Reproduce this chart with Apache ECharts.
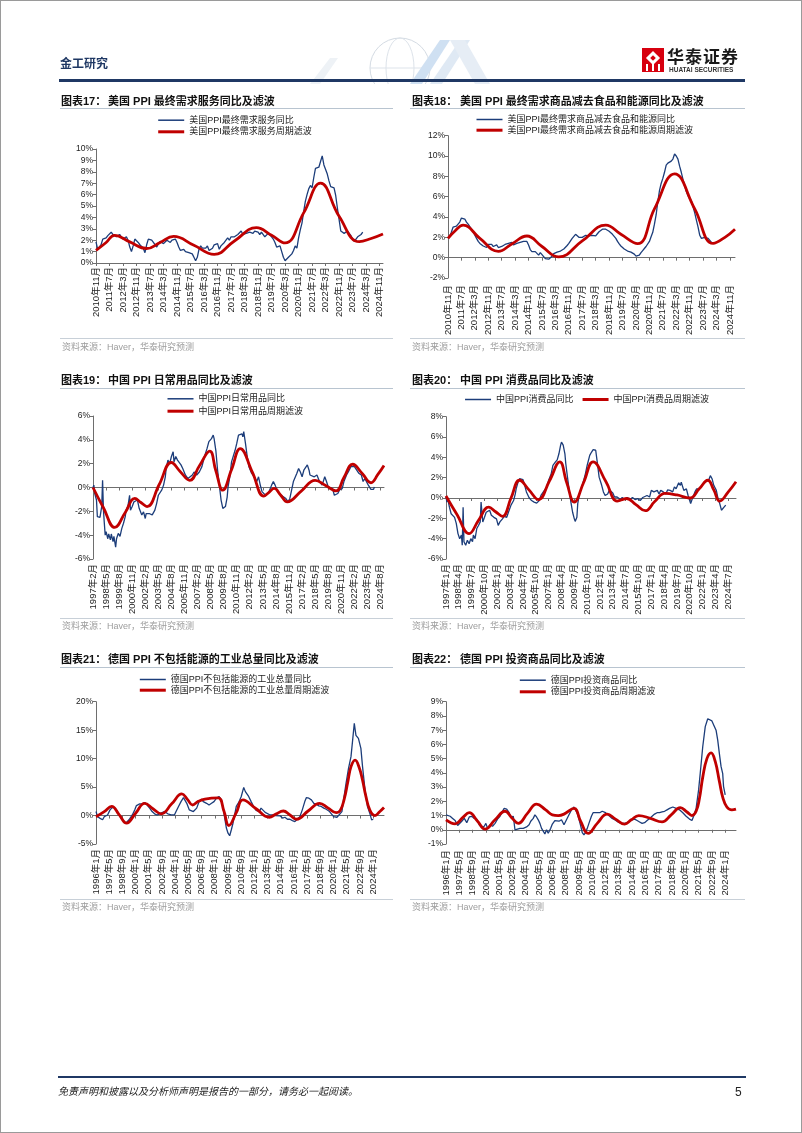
<!DOCTYPE html>
<html><head><meta charset="utf-8">
<script src="https://cdn.jsdelivr.net/npm/echarts/dist/echarts.min.js"></script>
<style>
html,body{margin:0;padding:0;background:#fff;}
#page{position:relative;width:802px;height:1133px;overflow:hidden;font-family:"Liberation Sans","Noto Sans CJK SC",sans-serif;}
#chart{position:absolute;left:0;top:0;width:802px;height:1133px;z-index:1;}
.t{position:absolute;white-space:nowrap;line-height:1;z-index:2;}
.ln{position:absolute;z-index:2;}
.ttl{font-size:11px;font-weight:bold;color:#111;}
.src{font-size:9px;color:#9d9d9d;}
.frame{position:absolute;left:0;top:0;width:802px;height:1133px;box-sizing:border-box;border:1px solid #9a9a9a;z-index:3;pointer-events:none;}
</style></head>
<body>
<div id="page">
  <svg style="position:absolute;left:290px;top:28px;z-index:0" width="230" height="56">
    <circle cx="110" cy="40" r="30" fill="none" stroke="#d4dbe3" stroke-width="1"/>
    <ellipse cx="110" cy="40" rx="14" ry="30" fill="none" stroke="#dde3ea" stroke-width="1"/>
    <line x1="80" y1="40" x2="140" y2="40" stroke="#dde3ea"/>
    <polygon points="120,56 150,12 160,12 132,56" fill="#cfe0f2"/>
    <polygon points="140,56 170,12 180,12 152,56" fill="#dfe9f4"/>
    <polygon points="160,12 175,12 200,56 185,56" fill="#e6edf5"/>
    <polygon points="20,56 40,30 48,30 30,56" fill="#eef2f6"/>
  </svg>
  <div class="t" style="left:60px;top:58px;font-size:12px;font-weight:bold;color:#1f3864;">金工研究</div>
  <div class="ln" style="left:59px;top:79px;width:686px;height:3px;background:#1f3864;"></div>
  <div class="ln" style="left:642px;top:48px;width:22px;height:24px;background:#d7000f;"></div>
  <div class="ln" style="left:648px;top:53px;width:10px;height:10px;background:#fff;transform:rotate(45deg);"></div>
  <div class="ln" style="left:651px;top:56px;width:4px;height:4px;background:#d7000f;transform:rotate(45deg);"></div>
  <div class="ln" style="left:646px;top:64px;width:2px;height:7px;background:#fff;"></div>
  <div class="ln" style="left:652px;top:64px;width:2px;height:7px;background:#fff;"></div>
  <div class="ln" style="left:658px;top:64px;width:2px;height:7px;background:#fff;"></div>
  <div class="t" style="left:667px;top:49px;font-size:17px;font-weight:bold;color:#1a1a1a;letter-spacing:1px;">华泰证券</div>
  <div class="t" style="left:669px;top:67px;font-size:6.5px;font-weight:bold;color:#333;">HUATAI SECURITIES</div>

  <!-- row 1 -->
  <div class="t ttl" style="left:61px;top:95.5px;">图表17：</div>
  <div class="t ttl" style="left:108px;top:95.5px;">美国 PPI 最终需求服务同比及滤波</div>
  <div class="ln" style="left:60px;top:108px;width:333px;height:1px;background:#b8c4d0;"></div>
  <div class="t ttl" style="left:412px;top:95.5px;">图表18：</div>
  <div class="t ttl" style="left:460px;top:95.5px;">美国 PPI 最终需求商品减去食品和能源同比及滤波</div>
  <div class="ln" style="left:410px;top:108px;width:335px;height:1px;background:#b8c4d0;"></div>
  <div class="ln" style="left:60px;top:338px;width:333px;height:1px;background:#c8d0d8;"></div>
  <div class="t src" style="left:62px;top:342.5px;">资料来源：Haver，华泰研究预测</div>
  <div class="ln" style="left:410px;top:338px;width:335px;height:1px;background:#c8d0d8;"></div>
  <div class="t src" style="left:412px;top:342.5px;">资料来源：Haver，华泰研究预测</div>

  <!-- row 2 -->
  <div class="t ttl" style="left:61px;top:375.2px;">图表19：</div>
  <div class="t ttl" style="left:108px;top:375.2px;">中国 PPI 日常用品同比及滤波</div>
  <div class="ln" style="left:60px;top:388px;width:333px;height:1px;background:#b8c4d0;"></div>
  <div class="t ttl" style="left:412px;top:375.2px;">图表20：</div>
  <div class="t ttl" style="left:460px;top:375.2px;">中国 PPI 消费品同比及滤波</div>
  <div class="ln" style="left:410px;top:388px;width:335px;height:1px;background:#b8c4d0;"></div>
  <div class="ln" style="left:60px;top:618px;width:333px;height:1px;background:#c8d0d8;"></div>
  <div class="t src" style="left:62px;top:621.5px;">资料来源：Haver，华泰研究预测</div>
  <div class="ln" style="left:410px;top:618px;width:335px;height:1px;background:#c8d0d8;"></div>
  <div class="t src" style="left:412px;top:621.5px;">资料来源：Haver，华泰研究预测</div>

  <!-- row 3 -->
  <div class="t ttl" style="left:61px;top:653.5px;">图表21：</div>
  <div class="t ttl" style="left:108px;top:653.5px;">德国 PPI 不包括能源的工业总量同比及滤波</div>
  <div class="ln" style="left:60px;top:666.5px;width:333px;height:1px;background:#b8c4d0;"></div>
  <div class="t ttl" style="left:412px;top:653.5px;">图表22：</div>
  <div class="t ttl" style="left:460px;top:653.5px;">德国 PPI 投资商品同比及滤波</div>
  <div class="ln" style="left:410px;top:666.5px;width:335px;height:1px;background:#b8c4d0;"></div>
  <div class="ln" style="left:60px;top:899px;width:333px;height:1px;background:#c8d0d8;"></div>
  <div class="t src" style="left:62px;top:902.5px;">资料来源：Haver，华泰研究预测</div>
  <div class="ln" style="left:410px;top:899px;width:335px;height:1px;background:#c8d0d8;"></div>
  <div class="t src" style="left:412px;top:902.5px;">资料来源：Haver，华泰研究预测</div>

  <!-- footer -->
  <div class="ln" style="left:58px;top:1076px;width:688px;height:2px;background:#1f3864;"></div>
  <div class="t" style="left:58px;top:1087px;font-size:10px;font-style:italic;color:#222;">免责声明和披露以及分析师声明是报告的一部分，请务必一起阅读。</div>
  <div class="t" style="left:735px;top:1086px;font-size:12px;color:#222;">5</div>

  <div id="chart"></div>
  <div class="frame"></div>
</div>
<script>
// ---------- DATA ----------
// Chart 17: US PPI final demand services (monthly from 2010-11)
const us_svc_yoy = [1.85,1.2,1.3,1.6,2.1,2.0,2.2,2.4,2.4,2.7,2.5,2.4,2.3,2.4,2.5,2.3,2.1,2.2,2.3,2.0,1.4,1.0,1.5,2.1,2.2,1.8,1.6,1.5,1.3,0.9,1.6,2.1,2.2,2.0,1.8,1.6,1.4,1.7,1.9,2.0,1.7,1.8,2.0,1.9,1.8,2.0,2.1,2.1,1.8,1.4,1.1,1.1,1.2,1.0,1.1,0.9,0.9,0.8,0.5,0.2,0.5,1.2,1.5,1.3,1.2,1.3,1.5,1.1,1.0,1.3,1.6,1.7,1.7,1.2,1.5,1.6,1.8,2.0,2.2,2.0,2.3,2.2,2.3,2.4,2.5,2.6,2.8,2.5,2.5,2.6,2.5,2.7,2.7,2.6,2.8,2.9,2.7,2.5,2.7,2.6,2.3,2.4,2.6,2.5,2.3,2.1,1.8,1.4,1.4,1.5,1.0,0.5,0.2,0.15,0.5,0.4,0.8,1.1,1.5,1.3,2.2,2.9,3.5,4.5,5.4,6.0,6.5,6.8,6.6,7.5,8.3,8.2,8.4,8.9,9.4,8.6,8.2,7.8,7.2,6.7,6.7,6.6,5.9,4.8,3.8,2.8,2.8,2.6,2.5,2.8,2.6,2.4,2.1,1.9,2.0,2.3,2.4,2.5,2.7];
// [month index, value]
const us_svc_filter = [[0,1.1],[6,1.8],[11,2.43],[20,1.85],[30,1.27],[38,1.8],[46,2.33],[58,1.55],[70,0.76],[82,1.93],[95,3.1],[104,2.43],[112,1.76],[123,4.4],[133,7.0],[144,4.1],[156,1.87],[163,2.15],[170,2.55]];

// Chart 18: US PPI final demand goods less food & energy (monthly from 2010-11)
const us_core_yoy = [1.9,2.1,2.5,3.0,2.9,3.1,3.3,3.5,3.9,4.0,3.8,3.5,3.3,3.05,2.8,2.55,2.2,1.9,1.6,1.4,1.3,1.15,1.1,1.0,1.3,1.2,1.3,1.1,1.2,1.25,1.0,1.15,1.1,1.0,1.3,1.35,1.4,1.55,1.5,1.25,1.35,1.4,1.45,1.5,1.55,1.6,1.65,1.6,1.25,0.8,0.6,0.45,0.6,0.7,0.25,0.5,0.3,0.1,-0.1,-0.15,-0.15,-0.1,0.15,0.4,0.5,0.55,0.6,0.65,0.7,0.85,1.0,1.2,1.4,1.65,1.9,2.1,2.3,2.15,2.0,1.9,2.0,2.05,2.2,2.3,2.15,2.2,2.2,2.2,2.15,2.35,2.55,2.7,2.8,2.8,2.8,2.7,2.6,2.45,2.3,2.1,1.9,1.6,1.35,1.15,1.0,0.85,0.75,0.65,0.6,0.55,0.5,0.35,0.15,0.1,0.25,0.5,0.7,0.9,1.1,1.25,1.6,2.05,2.5,3.3,4.2,5.5,6.6,7.3,7.8,8.4,9.1,9.3,9.4,9.5,9.7,10.2,10.0,9.7,9.0,8.4,7.7,7.1,6.5,6.1,5.8,5.6,5.0,4.4,3.7,3.0,2.2,1.9,1.8,2.0,2.0,1.9,1.7,1.5];
const us_core_filter = [[0,1.9],[4,2.6],[9,3.2],[19,1.9],[30,0.62],[38,1.35],[47,2.13],[56,1.1],[66,0.07],[80,1.65],[94,3.2],[103,2.3],[113,1.38],[123,4.8],[135,8.25],[147,4.8],[158,1.4],[165,2.0],[171,2.8]];

// Chart 19: China PPI daily-use goods (index from 1997-02)
const cn_daily_yoy = [[0,0],[1,0.2],[2,-0.5],[4,-1.05],[5,-2.45],[7,-2.4],[8,-2.5],[10,-1.6],[11,0.6],[12,-1.9],[13,-3.0],[14,-4.0],[15,-3.7],[17,-4.3],[18,-3.9],[20,-4.4],[21,-3.9],[23,-4.55],[24,-4.1],[26,-5.0],[27,-4.3],[29,-3.85],[31,-4.1],[33,-3.45],[35,-3.0],[37,-2.45],[38,-1.9],[40,-1.6],[42,-0.65],[43,-1.9],[45,-1.6],[47,-1.2],[49,-1.35],[51,-1.05],[53,-1.75],[56,-2.3],[58,-2.05],[60,-2.6],[61,-2.2],[63,-2.3],[65,-2.2],[68,-2.3],[71,-1.9],[73,-1.35],[75,-0.65],[77,-0.5],[79,-0.2],[81,0.2],[83,0.9],[84,1.6],[86,2.3],[88,2.0],[90,2.6],[92,3.0],[93,2.15],[95,2.6],[97,2.3],[99,2.45],[101,1.9],[103,1.6],[106,1.05],[109,0.75],[111,0.6],[114,1.05],[116,1.3],[119,1.05],[122,1.3],[125,1.75],[128,2.6],[131,3.3],[133,3.85],[136,4.1],[138,4.4],[139,4.1],[141,3.1],[143,1.45],[145,0.2],[147,-1.05],[149,-1.75],[150,-1.9],[152,-1.6],[154,-0.8],[155,0.05],[157,0.9],[159,2.15],[161,2.3],[163,3.1],[165,3.7],[167,4.4],[169,4.25],[171,4.5],[172,4.25],[173,4.7],[175,3.7],[177,2.6],[179,1.75],[182,1.2],[185,0.9],[188,0.5],[190,0.9],[192,0.2],[194,-0.35],[198,-0.65],[202,-0.35],[205,0.2],[207,0.5],[209,0.2],[212,-0.35],[216,-0.65],[221,-0.9],[224,-1.2],[226,-0.9],[228,-0.2],[230,0.5],[232,0.6],[234,1.2],[236,1.6],[238,1.3],[240,0.9],[242,1.45],[244,1.3],[246,1.9],[248,1.45],[249,1.05],[251,1.2],[254,0.9],[257,1.05],[260,0.5],[263,0.2],[266,0.9],[268,0.5],[270,0.05],[272,-0.1],[275,-0.1],[277,-0.65],[279,-0.75],[281,-0.5],[283,-0.2],[286,-0.1],[288,0.5],[291,1.05],[293,1.3],[296,1.75],[297,1.9],[300,1.75],[302,1.6],[305,1.2],[308,1.05],[310,0.5],[312,0.75],[314,0.6],[316,0.2],[319,-0.15],[320,0],[322,-0.15],[323,0.05]];
const cn_daily_filter = [[0,0],[12,-1.7],[25,-3.35],[37,-2.1],[48,-0.92],[55,-1.26],[62,-1.6],[76,0.25],[90,2.1],[100,1.35],[111,0.6],[122,1.8],[134,3.05],[141,1.4],[149,-0.22],[159,1.5],[169,3.27],[183,1.27],[196,-0.73],[202,-0.4],[208,-0.08],[215,-0.6],[223,-1.2],[239,-0.3],[255,0.6],[267,0.16],[279,-0.28],[288,0.83],[298,1.95],[309,1.18],[319,0.4],[327,1.1],[334,1.85]];

// Chart 20: China PPI consumer goods (index from 1997-01)
const cn_cons_yoy = [[0,0.15],[1,-0.4],[2,-0.05],[4,-0.9],[6,-1.55],[8,-1.4],[10,-1.9],[12,-2.5],[14,-3.5],[16,-4.0],[18,-3.65],[19,-4.65],[20,-0.9],[21,-4.3],[23,-4.65],[25,-4.15],[27,-4.5],[29,-4.0],[31,-4.3],[32,-3.65],[34,-4.0],[36,-3.0],[38,-2.7],[40,-2.35],[41,-0.4],[43,-2.35],[45,-1.9],[47,-1.4],[49,-1.55],[51,-1.2],[53,-1.7],[56,-1.9],[59,-2.05],[61,-2.7],[63,-2.35],[66,-2.05],[68,-1.8],[71,-1.9],[73,-1.4],[76,-0.7],[79,-0.25],[81,0.4],[82,0.9],[84,1.5],[86,1.9],[88,1.75],[90,1.8],[92,1.25],[94,0.6],[97,0.05],[100,-0.25],[103,-0.4],[106,-0.5],[109,-0.25],[111,0.25],[115,0.75],[118,1.1],[120,1.75],[123,2.4],[125,3.2],[128,3.55],[130,3.75],[132,4.35],[134,5.2],[135,5.5],[137,5.2],[139,4.35],[140,3.4],[142,2.05],[144,0.75],[146,-0.4],[148,-1.4],[150,-2.05],[151,-2.3],[153,-1.9],[154,-0.55],[156,0.4],[158,0.9],[161,1.75],[163,2.4],[165,3.2],[168,4.2],[170,4.5],[172,4.75],[175,4.7],[177,3.4],[179,2.05],[182,1.25],[184,0.6],[186,0.25],[189,0.4],[191,0.8],[193,0.9],[195,0.5],[197,0.1],[200,0.1],[204,-0.15],[206,0.05],[209,-0.15],[212,0.05],[215,-0.15],[218,0.05],[221,-0.15],[224,-0.05],[227,-0.25],[230,0.05],[232,-0.05],[235,0.25],[238,0.1],[240,0.75],[243,0.6],[247,0.75],[249,0.4],[251,0.75],[254,0.6],[257,0.4],[259,0.8],[262,0.75],[265,0.6],[267,1.1],[269,0.9],[272,1.5],[274,1.25],[275,1.55],[278,0.75],[281,0.9],[283,0.25],[286,-0.55],[288,-0.05],[291,0.6],[293,0.9],[296,0.9],[299,1.25],[302,1.55],[304,1.4],[307,1.75],[309,2.2],[311,1.9],[313,1.25],[316,0.75],[318,-0.05],[320,-0.55],[322,-1.2],[323,-1.05],[325,-0.9],[327,-0.7]];
const cn_cons_filter = [[0,0.2],[13,-1.65],[27,-3.5],[38,-2.2],[50,-0.9],[58,-1.35],[66,-1.8],[76,0],[86,1.75],[97,0.8],[108,-0.15],[121,1.7],[133,3.55],[141,1.55],[150,-0.4],[161,1.55],[172,3.55],[187,1.6],[200,-0.3],[206,-0.15],[211,-0.05],[222,-0.65],[233,-1.25],[244,-0.35],[256,0.45],[270,0.3],[285,0],[296,0.9],[306,1.75],[313,0.8],[320,-0.3],[330,0.6],[339,1.6]];

// Chart 21: Germany PPI industry ex energy (index from 1996-01)
const de_exen_yoy = [[0,0.7],[2,-0.2],[5,-0.5],[8,-0.75],[10,-0.2],[14,0.1],[17,1.0],[20,1.45],[23,1.3],[26,0.7],[29,-0.2],[33,-0.9],[36,-1.35],[40,-0.75],[44,0.1],[47,1.0],[49,1.75],[53,2.05],[56,2.05],[59,2.3],[62,1.85],[65,1.3],[68,0.7],[71,0.3],[74,0.1],[77,0.3],[80,0.5],[83,0.7],[87,0.3],[91,0.1],[95,0.1],[97,0.7],[100,1.6],[103,2.45],[106,3.15],[108,3.0],[110,2.15],[113,1.0],[115,0.9],[118,0.7],[122,1.3],[125,2.45],[128,2.85],[130,2.45],[134,2.15],[137,1.85],[140,2.15],[143,2.45],[146,3.05],[149,3.35],[152,2.75],[154,1.3],[156,-0.45],[158,-2.2],[160,-3.1],[162,-3.55],[164,-2.5],[166,-1.35],[168,0.1],[170,1.6],[173,2.3],[176,3.35],[179,4.95],[181,4.2],[183,3.9],[185,3.35],[188,2.45],[191,1.6],[194,0.9],[198,0.7],[200,1.3],[202,1.15],[205,0.55],[207,0.3],[211,0.1],[214,0.1],[217,0],[219,0.3],[223,-0.05],[226,-0.45],[229,-0.3],[232,-0.65],[235,-0.65],[238,-0.9],[241,-1.05],[244,-0.65],[247,-0.2],[250,1.0],[253,2.45],[255,3.15],[258,3.05],[261,2.75],[264,2.15],[267,2.0],[270,1.7],[273,1.6],[276,1.3],[279,1.1],[283,0.7],[285,0.4],[288,-0.2],[292,-0.3],[294,-0.05],[298,0.7],[300,2.75],[303,5.65],[306,8.3],[309,10.35],[311,13.25],[313,16.2],[315,14.1],[318,13.55],[321,11.8],[323,8.6],[326,4.5],[329,1.6],[332,0.3],[334,-0.75],[336,-0.65]];
const de_exen_filter = [[0,-0.2],[10,0.7],[19,1.6],[28,0.15],[37,-1.35],[48,0.4],[59,2.15],[69,1.2],[79,0.3],[92,2.1],[104,3.8],[111,2.8],[117,1.85],[124,2.5],[132,2.9],[148,3.1],[155,0.8],[161,-1.75],[170,0.5],[178,2.75],[194,1.2],[210,-0.3],[218,0.25],[227,0.8],[235,0.1],[243,-0.65],[257,0.8],[271,2.15],[281,1.35],[291,0.5],[296,0.9],[301,3.0],[305,5.8],[309,8.6],[314,9.75],[319,8.4],[323,6.2],[327,3.4],[332,0.9],[338,0],[344,0.7],[349,1.4]];

// Chart 22: Germany PPI capital goods (index from 1996-01)
const de_cap_yoy = [[0,1.05],[2,1.1],[5,0.95],[8,0.8],[11,0.65],[14,0.3],[16,0.2],[19,0.6],[22,0.8],[25,0.5],[28,0.9],[31,0.95],[34,0.8],[37,0.75],[40,0.35],[43,0.15],[46,0.25],[48,0.45],[50,0.1],[53,0.35],[56,0.25],[59,0.45],[62,0.75],[65,0.95],[68,1.3],[70,1.5],[73,1.45],[76,1.2],[78,0.9],[80,0.8],[81,0.95],[83,0],[85,0.1],[89,0.1],[93,0.1],[97,0.2],[100,0.35],[102,0.6],[105,0.8],[107,1.05],[109,0.9],[111,0.7],[113,0.45],[115,0.1],[117,-0.1],[119,-0.3],[121,0],[123,-0.25],[126,0.1],[128,0.4],[131,0.65],[133,0.7],[136,0.6],[139,0.7],[142,0.35],[145,0.7],[148,1.05],[151,1.4],[154,1.6],[156,1.5],[158,1.15],[160,0.75],[162,0.3],[164,-0.2],[166,-0.35],[168,-0.2],[170,0.1],[172,0.45],[175,0.95],[177,1.2],[180,1.2],[182,1.15],[185,1.2],[188,1.3],[190,1.3],[192,1.2],[194,1.1],[197,0.95],[200,0.8],[203,0.7],[207,0.55],[211,0.45],[215,0.45],[218,0.5],[221,0.6],[224,0.7],[227,0.75],[230,0.65],[233,0.55],[236,0.45],[239,0.5],[242,0.65],[245,0.8],[248,0.95],[251,1.1],[254,1.2],[257,1.2],[260,1.25],[263,1.3],[266,1.4],[269,1.5],[273,1.6],[277,1.5],[281,1.4],[285,1.2],[289,0.95],[293,0.75],[296,0.65],[298,0.95],[301,1.5],[304,2.8],[306,4.0],[309,5.85],[312,7.25],[315,7.8],[317,7.7],[320,7.65],[322,7.7],[325,7.0],[327,6.3],[329,5.35],[331,4.45],[333,3.95],[334,3.05],[336,2.45]];
const de_cap_filter = [[0,0.7],[11,0.42],[20,0.85],[28,1.2],[38,0.6],[47,0.05],[59,0.7],[71,1.3],[79,0.85],[87,0.45],[98,1.15],[109,1.8],[120,1.4],[128,1.05],[135,1.0],[142,1.1],[154,1.5],[162,0.6],[171,-0.25],[182,0.45],[194,1.1],[204,0.75],[215,0.4],[223,0.7],[232,1.0],[246,0.8],[260,0.55],[271,1.05],[282,1.55],[290,1.25],[296,1.0],[301,1.3],[305,2.2],[309,3.7],[314,5.0],[319,5.4],[324,4.8],[329,3.4],[333,2.3],[338,1.6],[344,1.4],[349,1.45]];

const names17 = ['美国PPI最终需求服务同比','美国PPI最终需求服务周期滤波'];
const names18 = ['美国PPI最终需求商品减去食品和能源同比','美国PPI最终需求商品减去食品和能源周期滤波'];
const names19 = ['中国PPI日常用品同比','中国PPI日常用品周期滤波'];
const names20 = ['中国PPI消费品同比','中国PPI消费品周期滤波'];
const names21 = ['德国PPI不包括能源的工业总量同比','德国PPI不包括能源的工业总量周期滤波'];
const names22 = ['德国PPI投资商品同比','德国PPI投资商品周期滤波'];

// ---------- BUILD ----------
const FONT = '"Liberation Sans","Noto Sans CJK SC",sans-serif';
const BLUE = '#1c3d7a', RED = '#c00000', AX = '#6e6e6e', TXT = '#222';
function monthCats(y, m, n){ const a=[]; for(let i=0;i<n;i++){ a.push(y+'年'+m+'月'); m++; if(m>12){m=1;y++;} } return a; }
const seq = arr => arr.map((v,i)=>[i,v]);
const HIDE = {color:'rgba(0,0,0,0)', borderColor:'rgba(0,0,0,0)', borderWidth:0, opacity:0};

const specs = [
  {grid:[96,149,287,114], start:[2010,11], n:171, every:8, y:[0,10,1], margin:4, blue:seq(us_svc_yoy), red:us_svc_filter, names:names17, lg:{left:156.7, top:115.7, orient:'vertical', itemGap:2.6}},
  {grid:[448,135.7,287,142.3], start:[2010,11], n:172, every:8, y:[-2,12,2], margin:7, blue:seq(us_core_yoy), red:us_core_filter, names:names18, lg:{left:475, top:115, orient:'vertical', itemGap:1.7}},
  {grid:[93,416,291,143], start:[1997,2], n:335, every:15, y:[-6,6,2], margin:5, blue:cn_daily_yoy, red:cn_daily_filter, names:names19, lg:{left:166, top:394.3, orient:'vertical', itemGap:3.4}},
  {grid:[446,416.7,290,142.3], start:[1997,1], n:340, every:15, y:[-6,8,2], margin:5, blue:cn_cons_yoy, red:cn_cons_filter, names:names20, lg:{left:464.3, top:395, orient:'horizontal', itemGap:7.5}},
  {grid:[96,701.7,288,142.3], start:[1996,1], n:350, every:16, y:[-5,20,5], margin:5, blue:de_exen_yoy, red:de_exen_filter, names:names21, lg:{left:138.3, top:675, orient:'vertical', itemGap:1.7}},
  {grid:[446,701.7,290,142.3], start:[1996,1], n:350, every:16, y:[-1,9,1], margin:6, blue:de_cap_yoy, red:de_cap_filter, names:names22, lg:{left:518.3, top:675.7, orient:'vertical', itemGap:2.6}}
];

const option = {animation:false, textStyle:{fontFamily:FONT}, grid:[], xAxis:[], yAxis:[], series:[], legend:[]};
specs.forEach((s,i)=>{
  const cats = monthCats(s.start[0], s.start[1], s.n);
  option.grid.push({left:s.grid[0], top:s.grid[1], width:s.grid[2], height:s.grid[3], containLabel:false});
  option.xAxis.push({type:'category', gridIndex:i, data:cats, boundaryGap:false,
    axisLine:{show:true, onZero:true, lineStyle:{color:AX, width:1}},
    axisTick:{show:true, interval:s.every-1, length:3, lineStyle:{color:AX}},
    axisLabel:{show:false}, splitLine:{show:false}});
  option.xAxis.push({type:'category', gridIndex:i, data:cats, boundaryGap:false, position:'bottom',
    axisLine:{show:false, onZero:false}, axisTick:{show:false},
    axisLabel:{rotate:90, interval:s.every-1, fontSize:9.5, color:TXT, margin:s.margin, fontFamily:FONT},
    splitLine:{show:false}});
  option.yAxis.push({type:'value', gridIndex:i, min:s.y[0], max:s.y[1], interval:s.y[2],
    axisLine:{show:true, lineStyle:{color:AX}}, axisTick:{show:true, length:3, lineStyle:{color:AX}},
    axisLabel:{formatter:'{value}%', fontSize:8.5, color:TXT, margin:3, fontFamily:FONT}, splitLine:{show:false}});
  option.series.push({name:s.names[0], type:'line', xAxisIndex:2*i, yAxisIndex:i, data:s.blue,
    symbol:'none', showSymbol:false, lineStyle:{color:BLUE, width:1.3}, itemStyle:{color:BLUE}, z:2});
  option.series.push({name:s.names[1], type:'line', xAxisIndex:2*i, yAxisIndex:i, data:s.red,
    symbol:'none', showSymbol:false, smooth:0.45, lineStyle:{color:RED, width:2.8}, itemStyle:{color:RED}, z:3});
  option.legend.push({data:[{name:s.names[0], itemStyle:HIDE, lineStyle:{width:1.5, color:BLUE}}, {name:s.names[1], itemStyle:HIDE, lineStyle:{width:3, color:RED}}],
    left:s.lg.left, top:s.lg.top, orient:s.lg.orient, itemGap:s.lg.itemGap, itemWidth:26, itemHeight:10, padding:0,
    itemStyle:HIDE, selectedMode:false, textStyle:{fontSize:9, color:TXT, fontFamily:FONT}});
});

const chart = echarts.init(document.getElementById('chart'), null, {renderer:'canvas'});
chart.setOption(option);
</script>
</body></html>
